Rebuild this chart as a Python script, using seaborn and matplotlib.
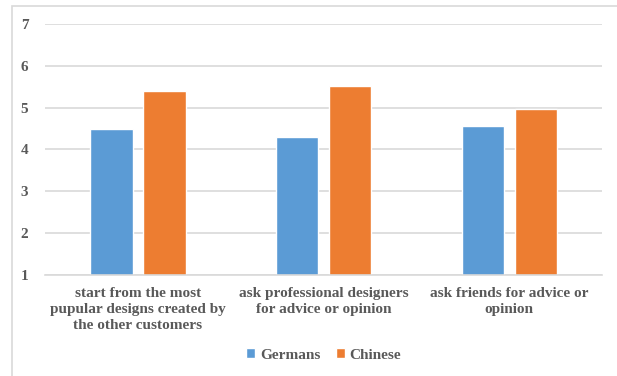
import pandas as pd
import matplotlib.pyplot as plt
import seaborn as sns
from matplotlib.patches import Rectangle

# data
categories = [
    "start from the most\npupular designs created by\nthe other customers",
    "ask professional designers\nfor advice or opinion",
    "ask friends for advice or\nopinion",
]
germans = [4.48, 4.31, 4.55]
chinese = [5.39, 5.52, 4.96]
groups = ["Germans", "Chinese"]
colors = ["#5B9BD5", "#ED7D31"]

df = pd.DataFrame({
    "category": categories * 2,
    "value": germans + chinese,
    "group": [groups[0]] * 3 + [groups[1]] * 3,
})

sns.set_style("white")
plt.rcParams["font.family"] = ["Liberation Serif", "DejaVu Serif"]
plt.rcParams["font.weight"] = "bold"

text_col = "#595959"

fig = plt.figure(figsize=(6.17, 3.76), dpi=100)
ax = fig.add_axes([0.073, 0.269, 0.903, 0.667])

sns.barplot(data=df, x="category", y="value", hue="group", palette=colors,
            width=0.57, gap=0.2, ax=ax, legend=True, saturation=1)

ax.set_ylim(1, 7)
ax.set_yticks(range(1, 8))
ax.yaxis.grid(True, color="#D9D9D9", linewidth=1.2)
ax.set_axisbelow(True)
for s in ["top", "right", "left"]:
    ax.spines[s].set_visible(False)
ax.spines["bottom"].set_color("#D9D9D9")
ax.spines["bottom"].set_linewidth(1.2)
ax.tick_params(axis="x", length=0, labelsize=11, colors=text_col, pad=9)
ax.tick_params(axis="y", length=0, labelsize=11, colors=text_col, pad=12)
for lbl in ax.get_xticklabels():
    lbl.set_fontweight("bold")
    lbl.set_linespacing(1.28)
for lbl in ax.get_yticklabels():
    lbl.set_fontweight("bold")
ax.set_xlabel("")
ax.set_ylabel("")

handles, labels = ax.get_legend_handles_labels()
ax.legend(handles, labels, loc="center", bbox_to_anchor=(0.5, -0.32),
          ncol=2, frameon=False, handlelength=0.6, handleheight=0.6,
          handletextpad=0.3, columnspacing=1.0,
          prop={"weight": "bold", "size": 11})
for t in ax.get_legend().get_texts():
    t.set_color(text_col)

# chart frame
fig.patches.append(Rectangle((12 / 617, -0.05), 1.1, 1 - 6 / 376 + 0.05,
                             transform=fig.transFigure, fill=False,
                             edgecolor="#D9D9D9", linewidth=1.2))

fig.savefig("out.png", dpi=100)
plt.close(fig)
